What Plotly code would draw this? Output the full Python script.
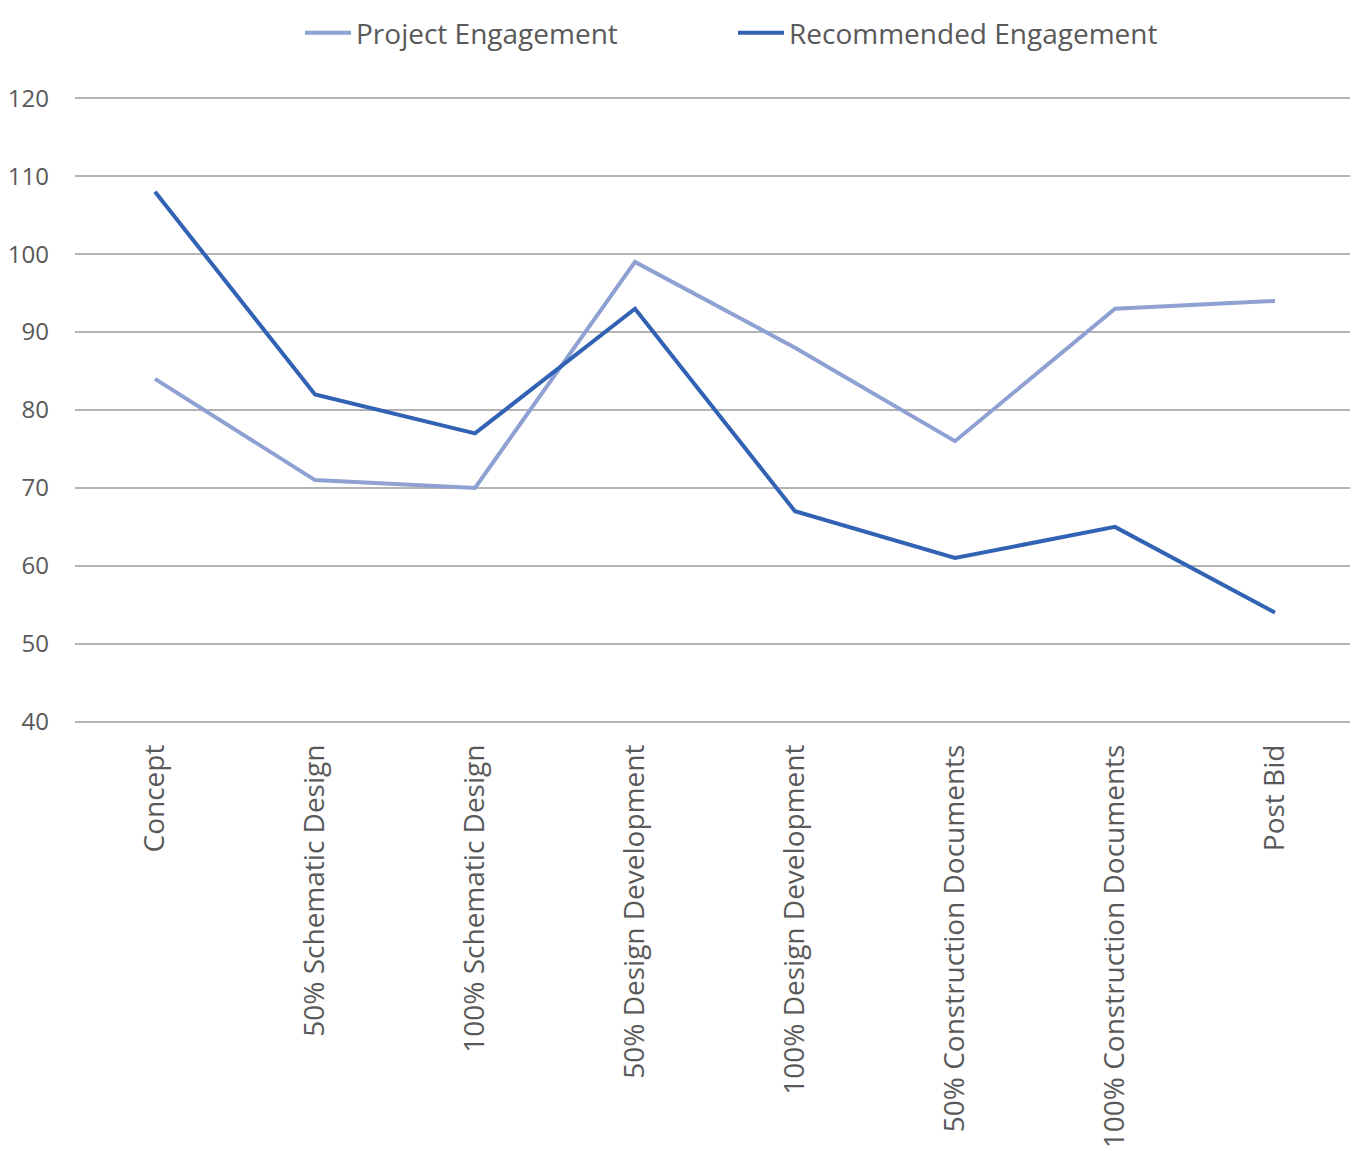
import plotly.graph_objects as go

# fases do projeto (eixo x)
fases = [
    "Concept",
    "50% Schematic Design",
    "100% Schematic Design",
    "50% Design Development",
    "100% Design Development",
    "50% Construction Documents",
    "100% Construction Documents",
    "Post Bid",
]

project_engagement = [84, 71, 70, 99, 88, 76, 93, 94]
recommended_engagement = [108, 82, 77, 93, 67, 61, 65, 54]

fig = go.Figure()

fig.add_trace(go.Scatter(
    x=fases,
    y=project_engagement,
    mode="lines",
    name="Project Engagement",
    line=dict(color="#8FA0D2", width=4),
))

fig.add_trace(go.Scatter(
    x=fases,
    y=recommended_engagement,
    mode="lines",
    name="Recommended Engagement",
    line=dict(color="#3162B3", width=4),
))

# a página tem 8px de margem no body, por isso 1350x1143
fig.update_layout(
    width=1350,
    height=1143,
    margin=dict(l=67, r=3, t=88, b=427, autoexpand=False),
    plot_bgcolor="white",
    paper_bgcolor="white",
    font=dict(family="Open Sans", size=24, color="#595959"),
    showlegend=True,
    legend=dict(
        orientation="h",
        xref="container", x=292 / 1350, xanchor="left",
        yref="container", y=1, yanchor="top",
        font=dict(size=28, color="#595959"),
        itemwidth=46,
        traceorder="normal",
        entrywidth=372,
        tracegroupgap=0,
    ),
    xaxis=dict(
        type="category",
        range=[-0.5, 7.5],
        tickangle=-90,
        showgrid=False,
        showline=False,
        ticks="",
        automargin=False,
        ticklabelstandoff=14,
        tickfont=dict(size=28, color="#595959"),
        fixedrange=True,
    ),
    yaxis=dict(
        range=[39.7, 120.3],
        tickvals=[40, 50, 60, 70, 80, 90, 100, 110, 120],
        showgrid=True,
        gridcolor="#B3B3B3",
        gridwidth=1.5,
        zeroline=False,
        showline=False,
        ticks="",
        automargin=False,
        ticklabelstandoff=25,
        tickfont=dict(size=24, color="#595959"),
    ),
)

fig.write_html("out.html")
